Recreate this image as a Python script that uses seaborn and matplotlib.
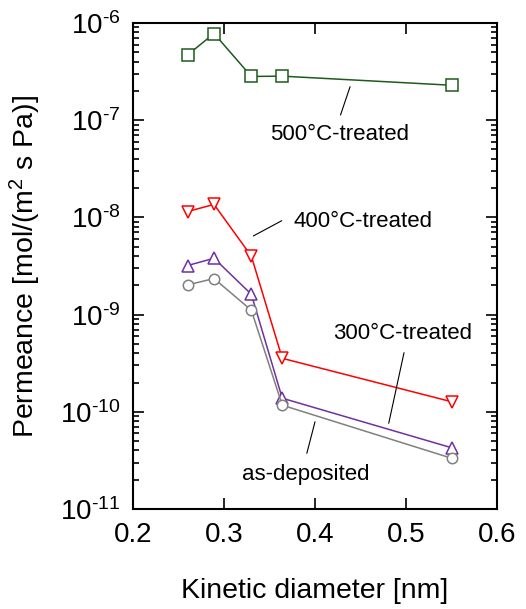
import numpy as np
import pandas as pd
import matplotlib
matplotlib.use("Agg")
import matplotlib.pyplot as plt
from matplotlib.ticker import FuncFormatter
import seaborn as sns

sns.set_theme(style="ticks")
plt.rcParams['font.family'] = ['Liberation Sans', 'DejaVu Sans']
plt.rcParams['mathtext.fontset'] = 'custom'
plt.rcParams['mathtext.rm'] = 'Liberation Sans'
plt.rcParams['mathtext.it'] = 'Liberation Sans:italic'
plt.rcParams['mathtext.default'] = 'regular'
for k in ['text.color', 'axes.labelcolor', 'xtick.color', 'ytick.color', 'axes.edgecolor']:
    plt.rcParams[k] = 'black'

# kinetic diameters: He, H2, CO2, N2, SF6
diameter = [0.26, 0.289, 0.33, 0.364, 0.55]

perm_500 = [4.7e-7, 7.8e-7, 2.82e-7, 2.84e-7, 2.29e-7]
perm_400 = [1.15e-8, 1.36e-8, 4.0e-9, 3.55e-10, 1.27e-10]
perm_300 = [3.2e-9, 3.8e-9, 1.62e-9, 1.38e-10, 4.27e-11]
perm_asdep = [2.02e-9, 2.35e-9, 1.11e-9, 1.17e-10, 3.33e-11]

series = ["500°C-treated", "400°C-treated", "300°C-treated", "as-deposited"]
colors = ["#1d5a1d", "#ff0000", "#7030a0", "#808080"]
markers = ["s", "v", "^", "o"]
msizes = [8, 9, 9, 7.5]

df = pd.DataFrame({
    "diameter": diameter * 4,
    "permeance": perm_500 + perm_400 + perm_300 + perm_asdep,
    "sample": np.repeat(series, len(diameter)),
})

fig = plt.figure(figsize=(5.26, 6.09), dpi=100)
ax = fig.add_axes([0.2529, 0.1642, 0.692, 0.798])

for name, c, m, ms in zip(series, colors, markers, msizes):
    sns.lineplot(data=df[df["sample"] == name], x="diameter", y="permeance",
                 ax=ax, color=c, marker=m, markersize=ms,
                 markerfacecolor="white", markeredgecolor=c,
                 markeredgewidth=1.1, linewidth=1.1, legend=False)

ax.set_yscale("log")
ax.set_xlim(0.2, 0.6)
ax.set_ylim(1e-11, 1e-6)
ax.set_xticks([0.2, 0.3, 0.4, 0.5, 0.6])
ax.set_xticklabels(["0.2", "0.3", "0.4", "0.5", "0.6"])
ax.yaxis.set_major_formatter(FuncFormatter(
    lambda v, p: r"$10^{\text{%d}}$" % int(round(np.log10(v)))))
ax.tick_params(which="both", direction="in", top=True, right=True,
               labelsize=20, width=1.2, color="black")
ax.tick_params(which="major", length=8, pad=9)
ax.tick_params(which="minor", length=4)
ax.tick_params(axis="x", which="minor", length=0, top=False, bottom=False)
for s in ax.spines.values():
    s.set_linewidth(1.5)
    s.set_color("black")

ax.set_xlabel("Kinetic diameter [nm]", fontsize=20.5, labelpad=22)
ax.set_ylabel("Permeance [mol/(m$^2$ s Pa)]", fontsize=20.5, labelpad=12)

# labels with leader lines
label_txt = [(0.4275, 7.05e-8), (0.4527, 9.0e-9), (0.4967, 6.43e-10), (0.390, 2.29e-11)]
leader = [((0.4385, 2.21e-7), (0.428, 1.13e-7)),
          ((0.3634, 9.25e-9), (0.3322, 6.44e-9)),
          ((0.4978, 4.06e-10), (0.481, 7.62e-11)),
          ((0.400, 7.9e-11), (0.391, 3.74e-11))]
for name, (tx, ty), (p0, p1) in zip(series, label_txt, leader):
    ax.text(tx, ty, name, fontsize=16, ha="center", va="center", color="black")
    ax.plot([p0[0], p1[0]], [p0[1], p1[1]], color="black", linewidth=0.8)

fig.savefig("out.png", dpi=100)
